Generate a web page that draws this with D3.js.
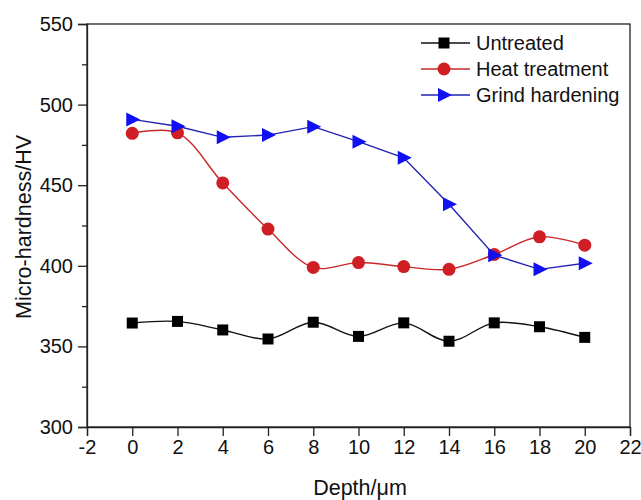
<!DOCTYPE html>
<html>
<head>
<meta charset="utf-8">
<script src="https://cdn.jsdelivr.net/npm/d3@7"></script>
<style>
  body { margin: 0; background: #fff; }
  svg { display: block; font-family: "Liberation Sans", Arial, sans-serif; }
</style>
</head>
<body>
<div id="chart"></div>
<script>
// data
const depth = [0, 2, 4, 6, 8, 10, 12, 14, 16, 18, 20];
const untreated = [364.5, 365.5, 360.2, 354.6, 365, 356.2, 364.6, 353.2, 364.6, 362.2, 355.6];
const heatTreatment = [482.2, 482.5, 451.4, 422.8, 399, 402, 399.5, 397.8, 407, 418, 412.8];
const grindHardening = [490.8, 486.6, 479.7, 481.1, 486.3, 477, 467, 438.2, 406.6, 397.8, 401.6];
const xTicks = [-2, 0, 2, 4, 6, 8, 10, 12, 14, 16, 18, 20, 22];
const yTicks = [300, 350, 400, 450, 500, 550];
const yMinor = [325, 375, 425, 475, 525];

const width = 641, height = 500;
const margin = { left: 87, right: 11, top: 24, bottom: 73 };

const svg = d3.select("#chart").append("svg")
  .attr("width", width)
  .attr("height", height);

const x = d3.scaleLinear().domain([-2, 22]).range([margin.left, width - margin.right]);
const y = d3.scaleLinear().domain([300, 550]).range([height - margin.bottom, margin.top]);

// frame
svg.append("rect")
  .attr("x", x(-2)).attr("y", y(550))
  .attr("width", x(22) - x(-2)).attr("height", y(300) - y(550))
  .attr("fill", "none").attr("stroke", "#222").attr("stroke-width", 1.3);

// axes
svg.append("g")
  .attr("transform", `translate(0,${y(300)})`)
  .call(d3.axisBottom(x).tickValues(xTicks).tickSize(9).tickPadding(4).tickFormat(d => String(d)));
svg.append("g")
  .attr("transform", `translate(${x(-2)},0)`)
  .call(d3.axisLeft(y).tickValues(yTicks).tickSize(9).tickPadding(5));
svg.append("g")
  .attr("transform", `translate(${x(-2)},0)`)
  .call(d3.axisLeft(y).tickValues(yMinor).tickSize(5).tickFormat(""))
  .call(g => g.select(".domain").remove());

svg.selectAll(".domain").attr("stroke", "#222").attr("stroke-width", 1.3);
svg.selectAll(".tick line").attr("stroke", "#222").attr("stroke-width", 1.3);
svg.selectAll(".tick text").attr("fill", "#111").style("font-size", "20px");

// axis titles
svg.append("text")
  .attr("x", 360).attr("y", 495)
  .attr("text-anchor", "middle")
  .style("font-size", "21.5px").attr("fill", "#111")
  .text("Depth/μm");
svg.append("text")
  .attr("transform", "translate(31,227) rotate(-90)")
  .attr("text-anchor", "middle")
  .style("font-size", "21.5px").attr("fill", "#111")
  .text("Micro-hardness/HV");

const series = [
  { name: "Untreated", values: untreated, line: "#111", fill: "#000", shape: "square", curve: d3.curveCatmullRom },
  { name: "Heat treatment", values: heatTreatment, line: "#c8282c", fill: "#d01f24", shape: "circle", curve: d3.curveCatmullRom },
  { name: "Grind hardening", values: grindHardening, line: "#2323b4", fill: "#1010f0", shape: "triangle", curve: d3.curveLinear }
];

function marker(g, shape, color) {
  if (shape === "square") {
    g.append("rect").attr("x", -5.5).attr("y", -5.5).attr("width", 11).attr("height", 11).attr("fill", color);
  } else if (shape === "circle") {
    g.append("circle").attr("r", 6.5).attr("fill", color);
  } else {
    g.append("path").attr("d", "M-6,-7L8,0L-6,7Z").attr("fill", color);
  }
}

series.forEach(s => {
  const pts = depth.map((d, i) => [d, s.values[i]]);
  svg.append("path")
    .datum(pts)
    .attr("fill", "none")
    .attr("stroke", s.line)
    .attr("stroke-width", 1.4)
    .attr("d", d3.line().x(d => x(d[0])).y(d => y(d[1])).curve(s.curve));
});

series.forEach(s => {
  depth.forEach((d, i) => {
    const g = svg.append("g").attr("transform", `translate(${x(d)},${y(s.values[i])})`);
    marker(g, s.shape, s.fill);
  });
});

// legend
const legend = svg.append("g");
series.forEach((s, i) => {
  const cy = 43 + i * 26;
  legend.append("line")
    .attr("x1", 421).attr("x2", 470).attr("y1", cy).attr("y2", cy)
    .attr("stroke", s.line).attr("stroke-width", 1.4);
  marker(legend.append("g").attr("transform", `translate(444,${cy})`), s.shape, s.fill);
  legend.append("text")
    .attr("x", 476).attr("y", cy + 7)
    .style("font-size", "20px").attr("fill", "#111")
    .text(s.name);
});
</script>
</body>
</html>
